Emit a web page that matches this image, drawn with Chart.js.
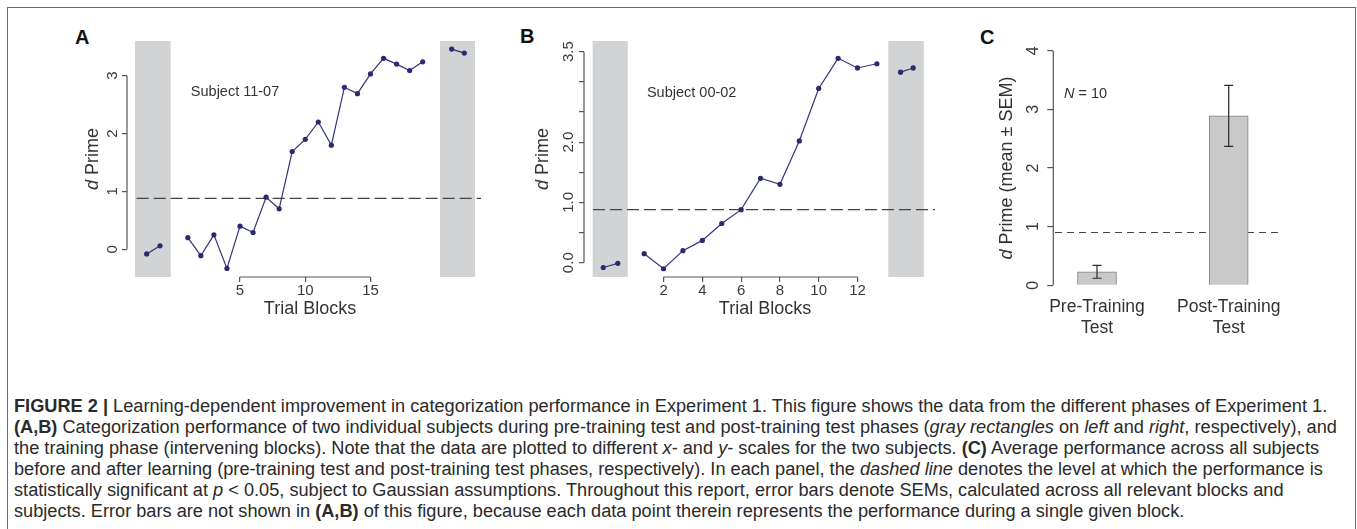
<!DOCTYPE html>
<html>
<head>
<meta charset="utf-8">
<script src="https://cdn.jsdelivr.net/npm/chart.js@4.4.0/dist/chart.umd.min.js"></script>
<style>
  html, body { margin: 0; padding: 0; background: #fff; }
  body { width: 1357px; height: 529px; overflow: hidden; position: relative;
         font-family: "Liberation Sans", Arial, sans-serif; }
  #frame { position: absolute; left: 6.5px; top: 7px; width: 1347px; height: 700px;
           border: 1.5px solid #6b6b6b; border-bottom: 0; }
  canvas { position: absolute; top: 0; }
  .panel { position: absolute; font-weight: bold; font-size: 20px; line-height: 20px; color: #111; }
  #caption { position: absolute; left: 14px; top: 396px; font-size: 18px; line-height: 21px;
             color: #2a2a2a; transform-origin: 0 0; }
  #caption .ln { white-space: nowrap; width: max-content; }
</style>
</head>
<body>
<div id="frame"></div>
<div class="panel" style="left:75px;top:27px">A</div>
<div class="panel" style="left:520px;top:26px">B</div>
<div class="panel" style="left:980px;top:27px">C</div>
<canvas id="chartA" width="500" height="340" style="left:0px"></canvas>
<canvas id="chartB" width="450" height="340" style="left:500px"></canvas>
<canvas id="chartC" width="400" height="340" style="left:950px"></canvas>

<div id="caption">
  <div class="ln"><b>FIGURE 2 |</b> Learning-dependent improvement in categorization performance in Experiment 1. This figure shows the data from the different phases of Experiment 1.</div>
  <div class="ln"><b>(A,B)</b> Categorization performance of two individual subjects during pre-training test and post-training test phases (<i>gray rectangles</i> on <i>left</i> and <i>right</i>, respectively), and</div>
  <div class="ln">the training phase (intervening blocks). Note that the data are plotted to different <i>x</i>- and <i>y</i>- scales for the two subjects. <b>(C)</b> Average performance across all subjects</div>
  <div class="ln">before and after learning (pre-training test and post-training test phases, respectively). In each panel, the <i>dashed line</i> denotes the level at which the performance is</div>
  <div class="ln">statistically significant at <i>p</i> &lt; 0.05, subject to Gaussian assumptions. Throughout this report, error bars denote SEMs, calculated across all relevant blocks and</div>
  <div class="ln">subjects. Error bars are not shown in <b>(A,B)</b> of this figure, because each data point therein represents the performance during a single given block.</div>
</div>

<script>
// Subject 11-07
const preXA = [-2.15, -1.13];
const preA = [-0.08, 0.06];
const blocksA = [1, 2, 3, 4, 5, 6, 7, 8, 9, 10, 11, 12, 13, 14, 15, 16, 17, 18, 19];
const trainA = [0.20, -0.11, 0.25, -0.33, 0.40, 0.29, 0.90, 0.70, 1.69, 1.90, 2.20, 1.80, 2.80, 2.69, 3.03, 3.30, 3.20, 3.09, 3.24];
const postXA = [21.22, 22.19];
const postA = [3.46, 3.39];
const xTicksA = [5, 10, 15];
const yTicksA = [0, 1, 2, 3];
const criterionA = 0.88;
const shadeA = [[-3.05, -0.31], [20.33, 23.01]];
const spanA = [-2.92, 23.47];

// Subject 00-02
const preXB = [-1.11, -0.36];
const preB = [-0.08, -0.01];
const blocksB = [1, 2, 3, 4, 5, 6, 7, 8, 9, 10, 11, 12, 13];
const trainB = [0.15, -0.10, 0.20, 0.37, 0.65, 0.88, 1.40, 1.30, 2.02, 2.89, 3.39, 3.23, 3.30];
const postXB = [14.22, 14.87];
const postB = [3.16, 3.23];
const xTicksB = [2, 4, 6, 8, 10, 12];
const yTicksB = [0, 0.5, 1, 1.5, 2, 2.5, 3, 3.5];
const yTickLabelsB = ['0.0', '', '1.0', '', '2.0', '', '', '3.5'];
const criterionB = 0.88;
const shadeB = [[-1.656, 0.154], [13.59, 15.42]];
const spanB = [-1.64, 16.0];

// all subjects, N = 10
const groupX = [1, 2];
const groupLabels = [['Pre-Training', 'Test'], ['Post-Training', 'Test']];
const meanC = [0.23, 2.89];
const semC = [0.11, 0.52];
const yTicksC = [0, 1, 2, 3, 4];
const criterionC = 0.90;
const spanC = [0.681, 2.39];

const family = '"Liberation Sans", Arial, sans-serif';
const ink = '#333';
const axisColor = '#555';
const navy = '#2b2970';
const shadeColor = '#d1d3d4';

Chart.defaults.font.family = family;
Chart.defaults.color = ink;

// draws a run of text pieces, some italic, starting or centred at (x, y)
function drawParts(ctx, parts, size, x, y, align) {
  const fonts = parts.map(p => (p.italic ? 'italic ' : '') + size + 'px ' + family);
  const widths = parts.map((p, i) => { ctx.font = fonts[i]; return ctx.measureText(p.text).width; });
  let cx = align === 'center' ? x - widths.reduce((a, b) => a + b, 0) / 2 : x;
  ctx.textAlign = 'left';
  ctx.textBaseline = 'middle';
  parts.forEach((p, i) => { ctx.font = fonts[i]; ctx.fillText(p.text, cx, y); cx += widths[i]; });
}

// gray bands for the pre- and post-training test blocks
const shading = {
  id: 'shading',
  beforeDatasetsDraw(chart, args, opts) {
    if (!opts.ranges) return;
    const { ctx, chartArea, scales: { x } } = chart;
    ctx.save();
    ctx.fillStyle = shadeColor;
    opts.ranges.forEach(r => {
      const x0 = x.getPixelForValue(r[0]), x1 = x.getPixelForValue(r[1]);
      ctx.fillRect(x0, chartArea.top, x1 - x0, chartArea.bottom - chartArea.top);
    });
    ctx.restore();
  }
};

// R style axis lines: only from the first to the last tick
const rAxisLines = {
  id: 'rAxisLines',
  afterDraw(chart) {
    const ctx = chart.ctx;
    ctx.save();
    ctx.strokeStyle = axisColor;
    ctx.lineWidth = 1.2;
    ['x', 'y'].forEach(id => {
      const s = chart.scales[id];
      if (!s.options.grid.display) return;
      const a = s.getPixelForValue(s.ticks[0].value);
      const b = s.getPixelForValue(s.ticks[s.ticks.length - 1].value);
      ctx.beginPath();
      if (id === 'x') { ctx.moveTo(a, s.top); ctx.lineTo(b, s.top); }
      else { ctx.moveTo(s.right, a); ctx.lineTo(s.right, b); }
      ctx.stroke();
    });
    ctx.restore();
  }
};

// y axis title with an italic d
const yTitle = {
  id: 'yTitle',
  afterDraw(chart, args, opts) {
    const { ctx, chartArea } = chart;
    ctx.save();
    ctx.translate(opts.x, (chartArea.top + chartArea.bottom) / 2);
    ctx.rotate(-Math.PI / 2);
    ctx.fillStyle = ink;
    drawParts(ctx, [{ text: 'd', italic: true }, { text: opts.rest }], 18, 0, 0, 'center');
    ctx.restore();
  }
};

// text label placed in data coordinates
const note = {
  id: 'note',
  afterDatasetsDraw(chart, args, opts) {
    if (!opts.parts) return;
    const { ctx, scales: { x, y } } = chart;
    ctx.save();
    ctx.fillStyle = ink;
    drawParts(ctx, opts.parts, 14.5, x.getPixelForValue(opts.at[0]), y.getPixelForValue(opts.at[1]), opts.align);
    ctx.restore();
  }
};

// mean +/- SEM whiskers on the bars
const errorBars = {
  id: 'errorBars',
  afterDatasetsDraw(chart) {
    const { ctx, scales: { x, y } } = chart;
    ctx.save();
    ctx.strokeStyle = '#2a2a2a';
    ctx.lineWidth = 1.2;
    groupX.forEach((g, i) => {
      const px = x.getPixelForValue(g);
      const top = y.getPixelForValue(meanC[i] + semC[i]);
      const bot = y.getPixelForValue(meanC[i] - semC[i]);
      ctx.beginPath();
      ctx.moveTo(px, top); ctx.lineTo(px, bot);
      ctx.moveTo(px - 4.5, top); ctx.lineTo(px + 4.5, top);
      ctx.moveTo(px - 4.5, bot); ctx.lineTo(px + 4.5, bot);
      ctx.stroke();
    });
    ctx.restore();
  }
};

function series(xs, ys) {
  return {
    data: xs.map((x, i) => ({ x, y: ys[i] })),
    showLine: true,
    borderColor: '#35347a',
    borderWidth: 1.2,
    backgroundColor: navy,
    pointBackgroundColor: navy,
    pointBorderWidth: 0,
    pointRadius: 2.6
  };
}

function criterion(span, level, dash) {
  return {
    type: 'line',
    data: [{ x: span[0], y: level }, { x: span[1], y: level }],
    showLine: true,
    borderColor: '#444',
    borderWidth: 1.2,
    borderDash: dash,
    pointRadius: 0,
    fill: false
  };
}

function tickMarks(len) {
  return { display: true, drawOnChartArea: false, drawTicks: true, tickLength: len, color: axisColor, lineWidth: 1.2 };
}

function trialOptions(p) {
  return {
    responsive: false,
    animation: false,
    events: [],
    layout: { padding: p.padding },
    scales: {
      x: {
        type: 'linear', min: p.xMin, max: p.xMax,
        afterBuildTicks: s => { s.ticks = p.xTicks.map(v => ({ value: v })); },
        afterFit: s => { s.height = p.xHeight; },
        grid: tickMarks(5),
        border: { display: false },
        ticks: { autoSkip: false, maxRotation: 0, padding: 0, color: '#3a3a3a', font: { size: 15 } },
        title: { display: true, text: 'Trial Blocks', color: ink, font: { size: 18 }, padding: { top: 0, bottom: 20 } }
      },
      y: {
        type: 'linear', min: p.yMin, max: p.yMax,
        afterBuildTicks: s => { s.ticks = p.yTicks.map(v => ({ value: v })); },
        afterFit: s => { s.width = p.yWidth; },
        grid: tickMarks(5),
        border: { display: false },
        ticks: {
          autoSkip: false, minRotation: 90, maxRotation: 90, crossAlign: 'center',
          padding: p.yPad, color: '#3a3a3a', font: { size: 15 },
          callback: p.yLabel
        }
      }
    },
    plugins: {
      legend: { display: false },
      tooltip: { enabled: false },
      shading: { ranges: p.shade },
      yTitle: { x: p.titleX, rest: ' Prime' },
      note: { parts: [{ text: p.subject }], at: p.subjectAt, align: 'center' }
    }
  };
}

new Chart(document.getElementById('chartA'), {
  type: 'scatter',
  data: {
    datasets: [
      series(preXA, preA), series(blocksA, trainA), series(postXA, postA),
      criterion(spanA, criterionA, [12, 5])
    ]
  },
  options: trialOptions({
    padding: { left: 0, top: 41, right: 7, bottom: 0 },
    xMin: -3.659, xMax: 24.387, xTicks: xTicksA, xHeight: 63,
    yMin: -0.4787, yMax: 3.5995, yTicks: yTicksA, yWidth: 127, yPad: 5.3,
    yLabel: v => String(v),
    shade: shadeA, titleX: 93,
    subject: 'Subject 11-07', subjectAt: [4.62, 2.71]
  }),
  plugins: [shading, rAxisLines, yTitle, note]
});

new Chart(document.getElementById('chartB'), {
  type: 'scatter',
  data: {
    datasets: [
      series(preXB, preB), series(blocksB, trainB), series(postXB, postB),
      criterion(spanB, criterionB, [12, 5])
    ]
  },
  options: trialOptions({
    padding: { left: 0, top: 41, right: 2, bottom: 0 },
    xMin: -2.1026, xMax: 16.564, xTicks: xTicksB, xHeight: 63,
    yMin: -0.2372, yMax: 3.6772, yTicks: yTicksB, yWidth: 84, yPad: 0,
    yLabel: (v, i) => yTickLabelsB[i],
    shade: shadeB, titleX: 43.3,
    subject: 'Subject 00-02', subjectAt: [3.45, 2.82]
  }),
  plugins: [shading, rAxisLines, yTitle, note]
});

new Chart(document.getElementById('chartC'), {
  type: 'bar',
  data: {
    datasets: [
      {
        data: groupX.map((x, i) => ({ x, y: meanC[i] })),
        backgroundColor: '#c9c9c9',
        borderColor: '#808080',
        borderWidth: 1,
        barThickness: 39
      },
      criterion(spanC, criterionC, [7, 5])
    ]
  },
  options: {
    responsive: false,
    animation: false,
    events: [],
    layout: { padding: { left: 0, top: 50.7, right: 60, bottom: 0 } },
    scales: {
      x: {
        type: 'linear', min: 0.6682, max: 2.4654, offset: false,
        afterBuildTicks: s => { s.ticks = groupX.map(v => ({ value: v })); },
        afterFit: s => { s.height = 54.7; },
        grid: { display: false, drawTicks: false },
        border: { display: false },
        ticks: {
          autoSkip: false, maxRotation: 0, padding: 11.2, color: ink,
          font: { size: 17.5 },
          callback: (v, i) => groupLabels[i]
        }
      },
      y: {
        type: 'linear', min: 0, max: 4,
        afterBuildTicks: s => { s.ticks = yTicksC.map(v => ({ value: v })); },
        afterFit: s => { s.width = 103.3; },
        grid: tickMarks(6),
        border: { display: false },
        ticks: {
          autoSkip: false, minRotation: 90, maxRotation: 90, crossAlign: 'center',
          padding: 9.5, color: '#3a3a3a', font: { size: 16 }
        }
      }
    },
    plugins: {
      legend: { display: false },
      tooltip: { enabled: false },
      yTitle: { x: 56.7, rest: ' Prime (mean \u00b1 SEM)' },
      note: { parts: [{ text: 'N', italic: true }, { text: ' = 10' }], at: [0.749, 3.26], align: 'left' }
    }
  },
  plugins: [rAxisLines, yTitle, note, errorBars]
});

// stretch the caption so its long lines end near the right edge
const caption = document.getElementById('caption');
const w = caption.children[1].getBoundingClientRect().width;
caption.style.transform = 'scaleX(' + ((1337 - 14) / w).toFixed(4) + ')';
</script>
</body>
</html>
